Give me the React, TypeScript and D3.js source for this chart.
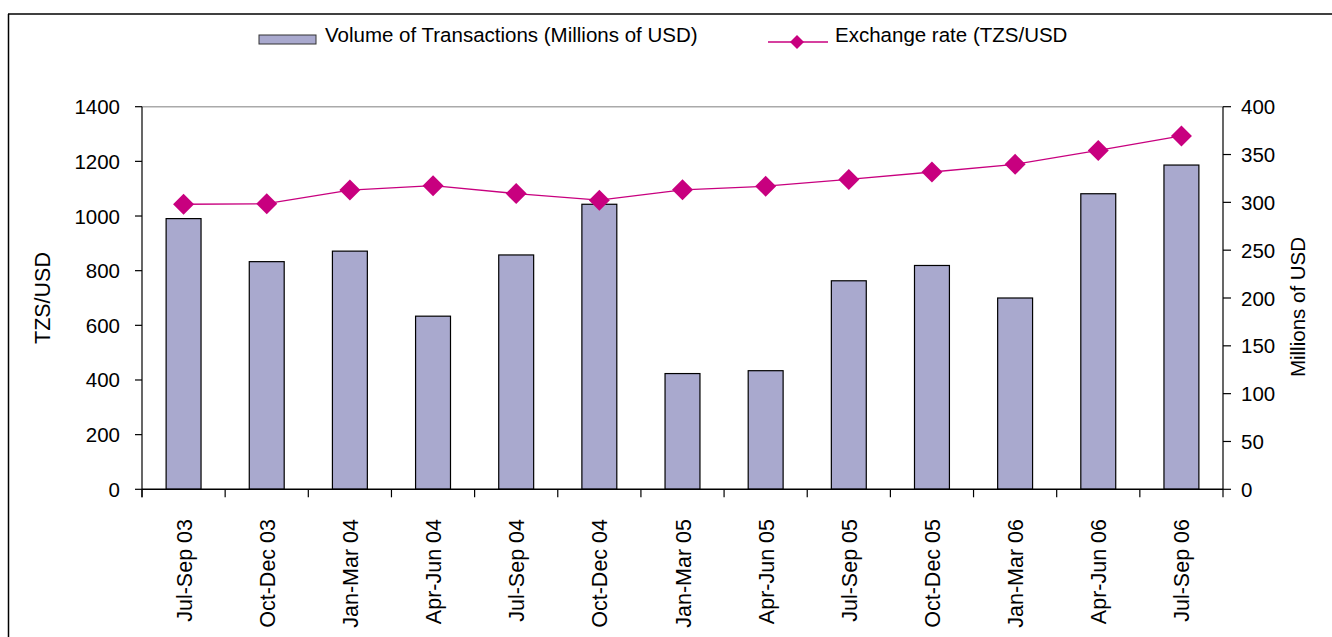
import React from "react";
import * as d3 from "d3";

const categories = [
  "Jul-Sep 03", "Oct-Dec 03", "Jan-Mar 04", "Apr-Jun 04", "Jul-Sep 04", "Oct-Dec 04",
  "Jan-Mar 05", "Apr-Jun 05", "Jul-Sep 05", "Oct-Dec 05", "Jan-Mar 06", "Apr-Jun 06", "Jul-Sep 06",
];
// Volume of transactions (Millions of USD) - right axis
const volume = [283, 238, 249, 181, 245, 298, 121, 124, 218, 234, 200, 309, 339];
// Exchange rate (TZS/USD) - left axis
const exchangeRate = [1043, 1045, 1095, 1111, 1082, 1058, 1096, 1109, 1134, 1161, 1189, 1240, 1293];
const leftTicks = [0, 200, 400, 600, 800, 1000, 1200, 1400];
const rightTicks = [0, 50, 100, 150, 200, 250, 300, 350, 400];

const W = 1332;
const H = 637;
const FONT = "'Liberation Sans', Arial, sans-serif";
const BAR_FILL = "#A9A9CE";
const LINE_COLOR = "#C8007F";

export default function App() {
  const x0 = 142, x1 = 1223, yTop = 106.7, yBot = 489.3;
  const x = d3.scaleBand<string>().domain(categories).range([x0, x1]).paddingInner(0.58).paddingOuter(0.29);
  const band = d3.scaleBand<string>().domain(categories).range([x0, x1]);
  const yL = d3.scaleLinear().domain([0, 1400]).range([yBot, yTop]);
  const yR = d3.scaleLinear().domain([0, 400]).range([yBot, yTop]);
  const line = d3.line<number>()
    .x((_, i) => (band(categories[i]) as number) + band.bandwidth() / 2)
    .y((d) => yL(d));
  const diamond = (cx: number, cy: number, r: number) =>
    `M${cx},${cy - r}L${cx + r},${cy}L${cx},${cy + r}L${cx - r},${cy}Z`;
  const fs = 20.5;
  const fsCat = 21.5;

  return (
    <svg width={W} height={H} style={{ position: "absolute", left: 0, top: 0 }} fontFamily={FONT}>
      <rect x={0} y={0} width={W} height={H} fill="#fff" />
      {/* frame */}
      <line x1={8} y1={14} x2={W} y2={14} stroke="#000" strokeWidth={1.5} />
      <line x1={8.5} y1={14} x2={8.5} y2={H} stroke="#000" strokeWidth={1.5} />

      {/* legend */}
      <rect x={259} y={35} width={57} height={9} fill={BAR_FILL} stroke="#333" strokeWidth={1} />
      <text x={325} y={42} fontSize={fs} fill="#000">Volume of Transactions (Millions of USD)</text>
      <line x1={768} y1={42} x2={828} y2={42} stroke={LINE_COLOR} strokeWidth={1.3} />
      <path d={diamond(797, 42, 7)} fill={LINE_COLOR} />
      <text x={835} y={42} fontSize={fs} fill="#000">Exchange rate (TZS/USD</text>

      {/* plot top border */}
      <line x1={x0} y1={yTop} x2={x1} y2={yTop} stroke="#aaa" strokeWidth={1.5} />

      {/* bars */}
      {volume.map((v, i) => (
        <rect key={i} x={x(categories[i])} y={yR(v)} width={x.bandwidth()} height={yBot - yR(v)}
          fill={BAR_FILL} stroke="#000" strokeWidth={1.2} />
      ))}

      {/* axes */}
      <line x1={x0} y1={yTop} x2={x0} y2={yBot + 8} stroke="#000" strokeWidth={1.2} />
      <line x1={x1} y1={yTop} x2={x1} y2={yBot + 8} stroke="#000" strokeWidth={1.2} />
      <line x1={x0} y1={yBot} x2={x1} y2={yBot} stroke="#000" strokeWidth={1.5} />
      {categories.map((c, i) => (
        <line key={"ct" + i} x1={(band(c) as number)} x2={(band(c) as number)} y1={yBot} y2={yBot + 8} stroke="#000" strokeWidth={1.2} />
      ))}
      {leftTicks.map((t) => (
        <g key={"lt" + t}>
          <line x1={x0 - 7} x2={x0} y1={yL(t)} y2={yL(t)} stroke="#000" strokeWidth={1.2} />
          <text x={120} y={yL(t)} fontSize={fs} textAnchor="end" dominantBaseline="central">{t}</text>
        </g>
      ))}
      {rightTicks.map((t) => (
        <g key={"rt" + t}>
          <line x1={x1} x2={x1 + 8} y1={yR(t)} y2={yR(t)} stroke="#000" strokeWidth={1.2} />
          <text x={1241} y={yR(t)} fontSize={fs} textAnchor="start" dominantBaseline="central">{t}</text>
        </g>
      ))}
      {categories.map((c) => {
        const cx = (band(c) as number) + band.bandwidth() / 2;
        return (
          <text key={"cl" + c} transform={`translate(${cx + 1},519) rotate(-90)`} fontSize={fsCat}
            textAnchor="end" dominantBaseline="central">{c}</text>
        );
      })}
      <text transform="translate(43,298) rotate(-90)" fontSize={fsCat} textAnchor="middle" dominantBaseline="central">TZS/USD</text>
      <text transform="translate(1297,307) rotate(-90)" fontSize={fs} textAnchor="middle" dominantBaseline="central">Millions of USD</text>

      {/* exchange-rate line */}
      <path d={line(exchangeRate) || ""} fill="none" stroke={LINE_COLOR} strokeWidth={1.3} />
      {exchangeRate.map((v, i) => (
        <path key={"d" + i}
          d={diamond((band(categories[i]) as number) + band.bandwidth() / 2, yL(v), 10.5)}
          fill={LINE_COLOR} />
      ))}
    </svg>
  );
}
